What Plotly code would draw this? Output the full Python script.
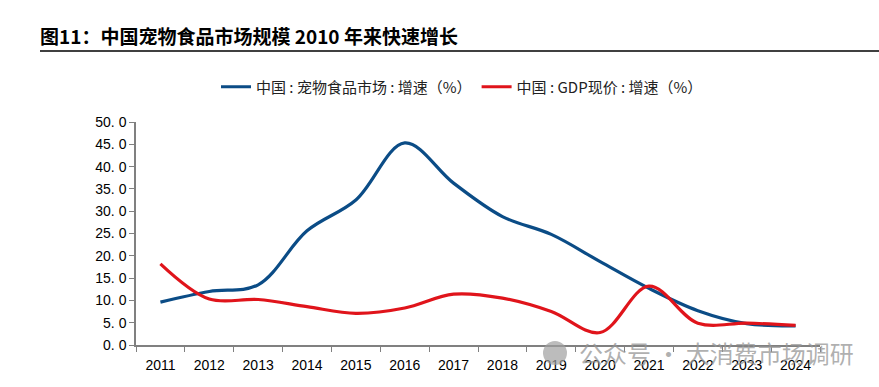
import plotly.graph_objects as go

years = ["2011", "2012", "2013", "2014", "2015", "2016", "2017",
         "2018", "2019", "2020", "2021", "2022", "2023", "2024"]
pet_food_growth = [9.6, 12.0, 13.5, 25.6, 32.5, 45.3, 36.3,
                   28.8, 24.8, 18.7, 12.7, 7.7, 4.8, 4.3]
gdp_growth = [18.2, 10.3, 10.2, 8.6, 7.1, 8.3, 11.4,
              10.5, 7.5, 2.8, 13.2, 4.9, 4.9, 4.4]
y_ticks = [0, 5, 10, 15, 20, 25, 30, 35, 40, 45, 50]
y_tick_text = [f"{v}. 0" for v in y_ticks]

font_cjk = "Noto Sans CJK SC, Liberation Sans, Arial, sans-serif"

PL, PR, PT, PB = 136, 820, 122, 345
PW, PH = PR - PL, PB - PT

def px(x):
    return (x - PL) / PW

def py(y):
    return (PB - y) / PH

fig = go.Figure()
fig.add_trace(go.Scatter(
    x=years, y=pet_food_growth, mode="lines",
    name="中国 : 宠物食品市场 : 增速（%）",
    line=dict(color="#0B4C86", width=3.2, shape="spline", smoothing=1.0),
))
fig.add_trace(go.Scatter(
    x=years, y=gdp_growth, mode="lines",
    name="中国 : GDP现价 : 增速（%）",
    line=dict(color="#E0141B", width=3.2, shape="spline", smoothing=1.0),
))

fig.update_layout(
    width=879, height=387,
    margin=dict(l=PL, r=879 - PR, t=PT, b=387 - PB),
    paper_bgcolor="white", plot_bgcolor="white",
    showlegend=True,
    legend=dict(orientation="h", x=px(462), xanchor="center", y=py(87), yanchor="middle",
                font=dict(family=font_cjk, size=15, color="#222"),
                traceorder="normal"),
    font=dict(family=font_cjk, color="#000"),
)

fig.update_xaxes(
    type="category", range=[-0.5, len(years) - 0.5],
    showline=True, linecolor="#808080", linewidth=1.5,
    ticks="outside", tickson="boundaries", ticklen=5, tickcolor="#808080",
    ticklabelstandoff=6,
    tickfont=dict(family="Liberation Sans Narrow, Liberation Sans, Arial", size=14, color="#000"),
    showgrid=False, zeroline=False,
)
fig.update_yaxes(
    range=[0, 50], tickvals=y_ticks, ticktext=y_tick_text,
    showline=True, linecolor="#808080", linewidth=1.5,
    ticks="outside", ticklen=5, tickcolor="#808080",
    tickfont=dict(family="Liberation Sans, Arial", size=14, color="#000"),
    showgrid=False, zeroline=False,
)

fig.add_annotation(
    text="<b>图11：中国宠物食品市场规模 2010 年来快速增长</b>",
    xref="paper", yref="paper", x=px(38), y=py(35),
    xanchor="left", yanchor="middle", showarrow=False,
    font=dict(family=font_cjk, size=19, color="#000"),
)
fig.add_shape(type="line", xref="paper", yref="paper",
              x0=px(40), x1=px(879), y0=py(51), y1=py(51),
              line=dict(color="#000", width=1.5))
fig.add_annotation(
    text="公众号 · 大消费市场调研",
    xref="paper", yref="paper", x=px(856), y=py(352),
    xanchor="right", yanchor="middle", showarrow=False,
    font=dict(family=font_cjk, size=24, color="rgba(150,150,150,0.75)"),
)
fig.add_shape(type="circle", xref="paper", yref="paper",
              x0=px(543), x1=px(567), y0=py(365), y1=py(341),
              fillcolor="rgba(160,160,160,0.7)", line=dict(width=0))

fig.write_html("out.html", config={"displayModeBar": False},
               post_script="document.body.style.margin='0';document.body.style.padding='0';")
